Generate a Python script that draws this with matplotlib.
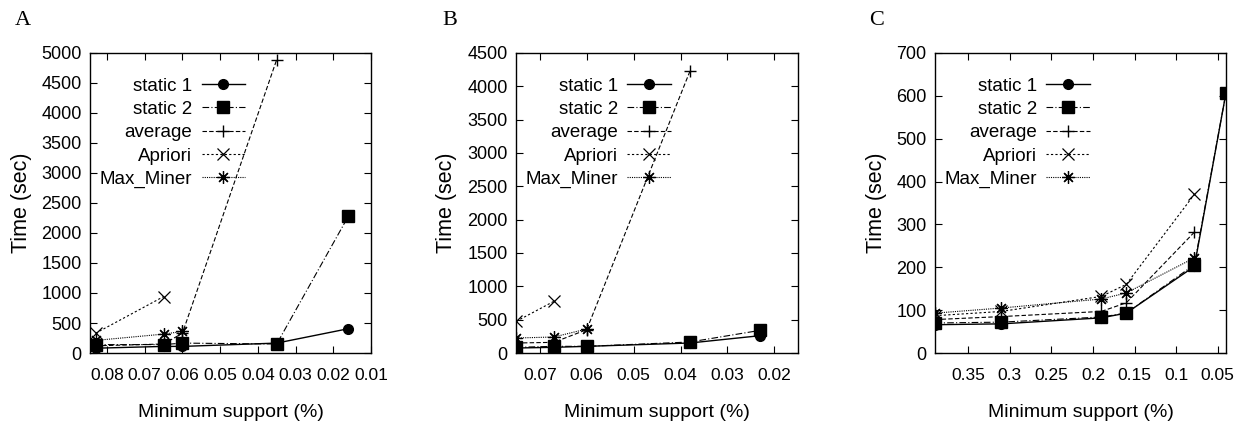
import matplotlib
matplotlib.use("Agg")
import matplotlib.pyplot as plt

plt.rcParams['font.family'] = ['Liberation Sans', 'DejaVu Sans']

series = ["static 1", "static 2", "average", "Apriori", "Max_Miner"]

# panel A
a_x = [0.083, 0.065, 0.06, 0.035, 0.016]
a_static1 = [80, 110, 110, 165, 405]
a_static2 = [140, 140, 165, 150, 2280]
a_average = [120, 150, 330, 4890]
a_apriori = [330, 940]
a_maxminer = [210, 315, 360]

# panel B
b_x = [0.075, 0.067, 0.06, 0.038, 0.023]
b_static1 = [75, 85, 100, 150, 260]
b_static2 = [85, 100, 100, 165, 340]
b_average = [150, 160, 350, 4225]
b_apriori = [475, 775]
b_maxminer = [225, 240, 360]

# panel C
c_x = [0.39, 0.31, 0.19, 0.16, 0.078, 0.04]
c_static1 = [66, 68, 82, 93, 202, 607]
c_static2 = [70, 72, 84, 93, 206, 607]
c_average = [78, 85, 97, 117, 282]
c_apriori = [87, 97, 132, 160, 370]
c_maxminer = [93, 105, 126, 140, 222]

styles = [
    dict(ls='-', marker='o', ms=7, lw=1.0),
    dict(ls=(0, (6, 2, 1, 2)), marker='s', ms=8, lw=0.8),
    dict(ls=(0, (4, 2)), marker='+', ms=9, mew=1.0, lw=0.8),
    dict(ls=(0, (2, 2)), marker='x', ms=8, mew=0.9, lw=0.8),
    dict(ls=(0, (1, 1)), marker=(8, 2, 0), ms=9, mew=0.9, lw=0.8),
]

panels = [
    ("A", [0.0726, 0.1694, 0.2266, 0.706], a_x,
     [a_static1, a_static2, a_average, a_apriori, a_maxminer],
     (0.0845, 0.01), [0.08, 0.07, 0.06, 0.05, 0.04, 0.03, 0.02, 0.01],
     (0, 5000), range(0, 5001, 500), 0.012),
    ("B", [0.416, 0.1694, 0.2274, 0.706], b_x,
     [b_static1, b_static2, b_average, b_apriori, b_maxminer],
     (0.0751, 0.015), [0.07, 0.06, 0.05, 0.04, 0.03, 0.02],
     (0, 4500), range(0, 4501, 500), 0.357),
    ("C", [0.754, 0.1694, 0.2347, 0.706], c_x,
     [c_static1, c_static2, c_average, c_apriori, c_maxminer],
     (0.39, 0.04), [0.35, 0.3, 0.25, 0.2, 0.15, 0.1, 0.05],
     (0, 700), range(0, 701, 100), 0.701),
]

fig = plt.figure(figsize=(12.4, 4.25), dpi=100)

for letter, rect, xs, ys, xlim, xticks, ylim, yticks, lx in panels:
    ax = fig.add_axes(rect)
    for name, y, st in zip(series, ys, styles):
        ax.plot(xs[:len(y)], y, color='black', label=name, **st)
    ax.set_xlim(*xlim)
    ax.set_ylim(*ylim)
    ax.set_xticks(xticks)
    ax.set_xticklabels([f"{t:g}" for t in xticks])
    ax.set_yticks(list(yticks))
    ax.tick_params(direction='in', top=True, right=True, length=5, width=0.8,
                   labelsize=13)
    ax.tick_params(axis='x', pad=11, labelsize=12.5)
    ax.tick_params(axis='y', pad=6)
    ax.set_ylabel("Time (sec)", fontsize=15.5, labelpad=7)
    ax.set_xlabel("Minimum support (%)", fontsize=14, labelpad=15)
    leg = ax.legend(loc='upper left', bbox_to_anchor=(-0.012, 0.962), frameon=False,
                    markerfirst=False, fontsize=13.5, handlelength=2.3,
                    handletextpad=0.5, labelspacing=0.33, borderaxespad=0.3)
    leg._legend_box._children[-1]._children[0].align = "right"
    for sp in ax.spines.values():
        sp.set_linewidth(1.0)
    fig.text(lx, 0.952, letter, fontsize=16, family='Liberation Serif',
             ha='left', va='center')

plt.savefig("out.png", dpi=100)
